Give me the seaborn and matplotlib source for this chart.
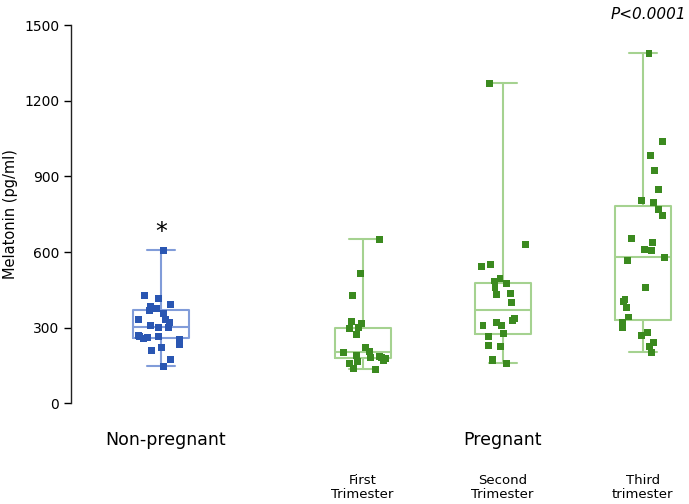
import numpy as np
import pandas as pd
import matplotlib
matplotlib.use("Agg")
from matplotlib import pyplot as plt
import seaborn as sns

# melatonin values (pg/ml)
non_pregnant = [146, 173, 210, 221, 234, 253, 258, 262, 266, 266, 270, 300, 302,
                310, 322, 333, 333, 357, 369, 377, 385, 393, 417, 428, 607]
first_trim = [135, 139, 159, 165, 170, 178, 183, 183, 186, 190, 202, 206, 222,
              274, 297, 300, 318, 325, 429, 516, 650]
second_trim = [159, 171, 175, 226, 230, 263, 278, 309, 310, 321, 329, 337, 400,
               400, 432, 437, 460, 476, 485, 496, 544, 552, 631, 1270]
third_trim = [202, 226, 242, 270, 282, 301, 321, 342, 381, 403, 413, 460, 567,
              580, 606, 611, 639, 654, 746, 770, 798, 806, 849, 925, 984, 1040, 1389]

groups = ["Non-pregnant", "First Trimester", "Second Trimester", "Third trimester"]
group_pos = [0, 1.44, 2.44, 3.44]
sub_labels = ["First\nTrimester", "Second\nTrimester", "Third\ntrimester"]
yticks = [0, 300, 600, 900, 1200, 1500]

rows = []
for g, p, vals in zip(groups, group_pos, [non_pregnant, first_trim, second_trim, third_trim]):
    for v in vals:
        rows.append({"group": g, "pos": p, "value": v})
df = pd.DataFrame(rows)

box_pal = {groups[0]: "#819cd9", groups[1]: "#a5d290", groups[2]: "#a5d290", groups[3]: "#a5d290"}
pt_pal = {groups[0]: "#2a56b2", groups[1]: "#3b8a1f", groups[2]: "#3b8a1f", groups[3]: "#3b8a1f"}

sns.set_style("white")
plt.rcParams["font.family"] = ["DejaVu Sans"]
plt.rcParams["text.color"] = "black"
plt.rcParams["axes.labelcolor"] = "black"
plt.rcParams["ytick.color"] = "black"

fig = plt.figure(figsize=(6.89, 5.04), dpi=100)
ax = fig.add_axes([0.103, 0.2, 0.897, 0.75])

sns.boxplot(data=df, x="pos", y="value", hue="group", palette=box_pal, native_scale=True,
            fill=False, whis=(0, 100), width=0.4, showfliers=False, linewidth=1.5,
            legend=False, ax=ax)
np.random.seed(3)
sns.stripplot(data=df, x="pos", y="value", hue="group", palette=pt_pal, native_scale=True,
              jitter=0.17, marker="s", size=5, linewidth=0, legend=False, ax=ax, zorder=3)

ax.set_xlim(-0.643, 3.771)
ax.set_ylim(0, 1500)
ax.set_yticks(yticks)
ax.set_xticks([])
ax.set_xlabel("")
ax.set_ylabel("Melatonin (pg/ml)", fontsize=10.5)
ax.tick_params(axis="y", direction="out", length=5, width=1, labelsize=10, left=True)
for s in ["top", "right", "bottom"]:
    ax.spines[s].set_visible(False)
ax.spines["left"].set_color("#222222")
ax.spines["left"].set_linewidth(1)

trans = ax.get_xaxis_transform()
ax.text(0.03, -0.098, "Non-pregnant", transform=trans, ha="center", va="center", fontsize=12.5)
ax.text(group_pos[2], -0.098, "Pregnant", transform=trans, ha="center", va="center", fontsize=12.5)
for p, lab in zip(group_pos[1:], sub_labels):
    ax.text(p, -0.222, lab, transform=trans, ha="center", va="center", fontsize=9.5,
            linespacing=1.1)
ax.text(3.48, 1.029, "P<0.0001", transform=trans, ha="center", va="center",
        fontsize=11, style="italic")
ax.text(0, 680, "*", ha="center", va="center", fontsize=17)

fig.savefig("out.png", dpi=100)
